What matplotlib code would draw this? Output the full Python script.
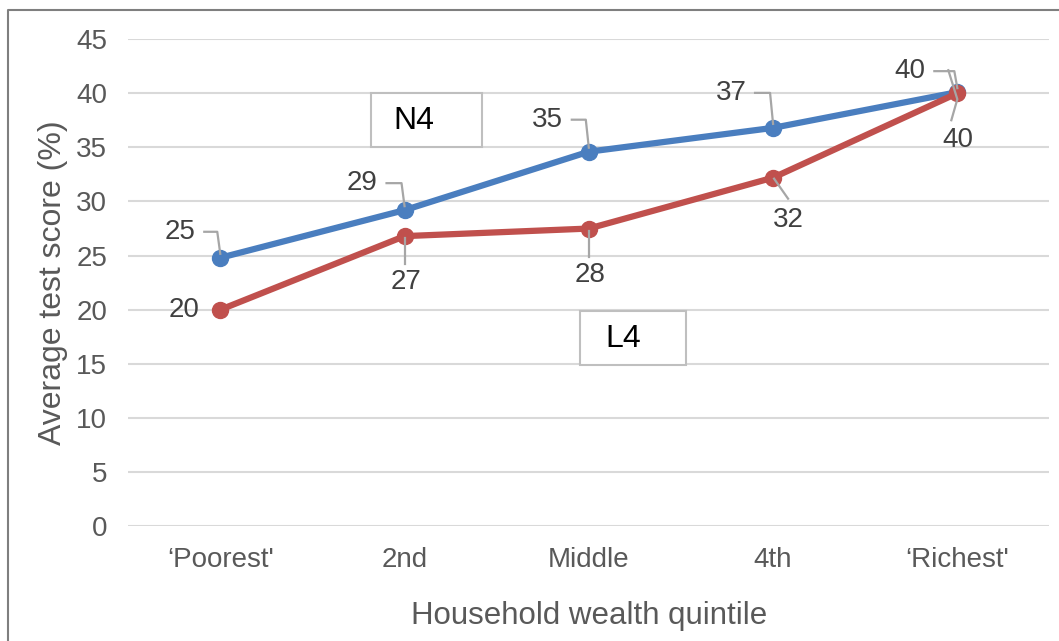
import matplotlib.pyplot as plt
from matplotlib.patches import Rectangle
from matplotlib.lines import Line2D

plt.rcParams['font.family'] = ['Liberation Sans', 'DejaVu Sans']

categories = ["\u2018Poorest'", "2nd", "Middle", "4th", "\u2018Richest'"]
n4_scores = [24.8, 29.2, 34.6, 36.8, 40.1]
l4_scores = [20.0, 26.8, 27.5, 32.2, 40.0]
n4_labels = ["25", "29", "35", "37", "40"]
l4_labels = ["20", "27", "28", "32", "40"]

blue = "#4a7ebf"
red = "#c0504d"
grey_txt = "#404040"
leader = "#a6a6a6"

fig = plt.figure(figsize=(10.59, 6.41), dpi=100)
W, H = fig.bbox.width, fig.bbox.height
ax = fig.add_axes([0.121, 0.179, 0.870, 0.760])

x = list(range(len(categories)))
ax.plot(x, n4_scores, color=blue, lw=4.5, marker="o", ms=11.5, zorder=3)
ax.plot(x, l4_scores, color=red, lw=4.5, marker="o", ms=11.5, zorder=4)

ax.set_xlim(-0.5, 4.5)
ax.set_ylim(0, 45)
ax.set_yticks(range(0, 46, 5))
ax.set_xticks(x)
ax.set_xticklabels(categories)
ax.tick_params(axis="both", length=0, labelsize=20, labelcolor="#595959")
ax.tick_params(axis="x", pad=15)
ax.tick_params(axis="y", pad=15)
ax.grid(axis="y", color="#d9d9d9", lw=1.5)
ax.set_axisbelow(True)
for s in ax.spines.values():
    s.set_visible(False)

ax.set_ylabel("Average test score (%)", fontsize=23, color="#595959", labelpad=6)
ax.set_xlabel("Household wealth quintile", fontsize=22.5, color="#595959", labelpad=20)


def fig_line(xs, ys):
    fig.add_artist(Line2D([v / W for v in xs], [v / H for v in ys],
                          color=leader, lw=1.6, zorder=5))


# N4 data labels (offsets in pixels), leader: horizontal then down
n4_off = [(-40, 26), (-42, 27), (-41, 32), (-42, 35), (-47, 21)]
for i, (v, lab) in enumerate(zip(n4_scores, n4_labels)):
    dx, dy = n4_off[i]
    ax.annotate(lab, (i, v), xytext=(dx, dy), textcoords="offset pixels",
                ha="center", va="center", fontsize=20, color=grey_txt, zorder=6)
    px, py = ax.transData.transform((i, v))
    fig_line([px + dx + 24, px - 3, px], [py + dy, py + dy, py + 4])

# L4 data labels
l4_off = [(-36, 0), (1, -46), (1, -46), (15, -42), (1, -47)]
for i, (v, lab) in enumerate(zip(l4_scores, l4_labels)):
    dx, dy = l4_off[i]
    ax.annotate(lab, (i, v), xytext=(dx, dy), textcoords="offset pixels",
                ha="center", va="center", fontsize=20, color=grey_txt, zorder=6)
    if i == 0:
        continue
    px, py = ax.transData.transform((i, v))
    if i == 3:
        fig_line([px + dx, px + 1], [py + dy + 21, py - 1])
    elif i == 4:
        fig_line([px - 6, px, px - 9], [py + dy + 20, py - 6, py + 23])
    else:
        fig_line([px, px], [py + dy + 18, py - 2])

# series name boxes
for name, x0, y0, w, h in [("N4", 371, 93, 111, 54), ("L4", 580, 311, 106, 54)]:
    fig.add_artist(Rectangle((x0 / W, 1 - (y0 + h) / H), w / W, h / H,
                             facecolor="white", edgecolor="#bfbfbf", lw=1.5,
                             transform=fig.transFigure, zorder=7))
    fig.text((x0 + 43) / W, 1 - (y0 + h / 2 + 1) / H, name, fontsize=23,
             color="black", ha="center", va="center", zorder=8)

# outer frame (top and left visible)
fig.add_artist(Line2D([8 / W, 8 / W, 1.0], [0.0, 1 - 10 / H, 1 - 10 / H],
                      color="#7f7f7f", lw=1.5))

fig.savefig("out.png", dpi=100)
